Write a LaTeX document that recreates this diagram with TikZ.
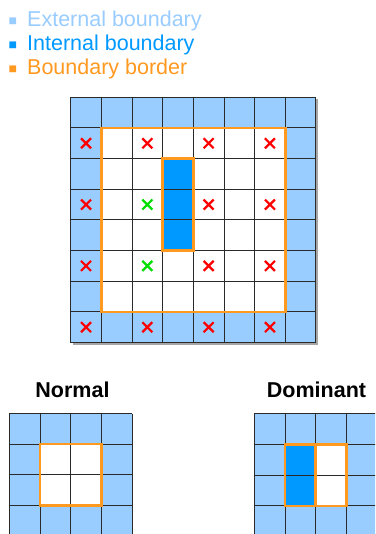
\documentclass[tikz,border=0pt]{standalone}
\usepackage{fontspec}
\setmainfont{Liberation Sans}
\definecolor{extb}{HTML}{99CCFF}
\definecolor{intb}{HTML}{0099FF}
\definecolor{bord}{HTML}{FF9920}
\definecolor{gridc}{HTML}{2A2A2A}
\definecolor{xred}{HTML}{FF0000}
\definecolor{xgreen}{HTML}{00DD00}
\tikzset{
  gridline/.style={gridc, line width=0.9pt},
  borderline/.style={bord, line width=2.6pt},
  crossmark/.pic={\draw[line width=2.2pt] (-5pt,-5pt) -- (5pt,5pt) (-5pt,5pt) -- (5pt,-5pt);},
  legtext/.style={anchor=base west, inner sep=0pt, font=\fontsize{21.5}{24}\selectfont},
  legsq/.style={anchor=base west, inner sep=0pt, font=\fontsize{14}{15}\selectfont},
  title/.style={anchor=base, inner sep=0pt, font=\fontsize{21.5}{24}\selectfont\bfseries},
}
\newcommand{\cellgrid}[1]{%
  \foreach \k in {0,...,#1} {
    \draw[gridline] (\k,0) -- (\k,#1);
    \draw[gridline] (0,\k) -- (#1,\k);
  }}
\begin{document}
\begin{tikzpicture}[x=1pt,y=-1pt]
\useasboundingbox (0,0) rectangle (375,534);
\clip (0,0) rectangle (375,534);
\fill[white] (0,0) rectangle (375,534);
% legend
\node[legsq, extb] (s1) at (8.5,25.5) {■};
\node[legtext, extb] (l1) at (27,26.5) {External boundary};
\node[legsq, intb] (s2) at (8.5,49.5) {■};
\node[legtext, intb] (l2) at (27,50.5) {Internal boundary};
\node[legsq, bord] (s3) at (8.5,74) {■};
\node[legtext, bord] (l3) at (27,75) {Boundary border};
% main grid
\fill[black!35] (72.7,99.3) rectangle (317.9,345);
\begin{scope}[x=30.65pt, y=-30.65pt, shift={(70.7pt,-97.3pt)}]
  \fill[extb] (0,0) rectangle (8,8);
  \fill[white] (1,1) rectangle (7,7);
  \fill[intb] (3,2) rectangle (4,5);
  \cellgrid{8}
  \draw[borderline] (1,1) rectangle (7,7);
  \draw[borderline] (3,2) rectangle (4,5);
  \foreach \r in {1,7} {
    \foreach \c in {0,2,4,6} { \pic[xred] at (\c+0.5,\r+0.5) {crossmark}; }
  }
  \foreach \r in {3,5} {
    \foreach \c in {0,4,6} { \pic[xred] at (\c+0.5,\r+0.5) {crossmark}; }
    \pic[xgreen] at (2.5,\r+0.5) {crossmark};
  }
\end{scope}
% titles
\node[title] (tn) at (72.5,397) {Normal};
\node[title] (td) at (316.5,397) {Dominant};
% normal grid
\begin{scope}[x=30.67pt, y=-30.67pt, shift={(9.3pt,-413.5pt)}]
  \fill[extb] (0,0) rectangle (4,4);
  \fill[white] (1,1) rectangle (3,3);
  \cellgrid{4}
  \draw[borderline] (1,1) rectangle (3,3);
\end{scope}
% dominant grid
\begin{scope}[x=30.67pt, y=-30.67pt, shift={(254.3pt,-413.8pt)}]
  \fill[extb] (0,0) rectangle (4,4);
  \fill[white] (1,1) rectangle (3,3);
  \fill[intb] (1,1) rectangle (2,3);
  \cellgrid{4}
  \draw[borderline] (1,1) rectangle (3,3);
  \draw[borderline] (1,1) rectangle (2,3);
\end{scope}
\end{tikzpicture}
\end{document}
